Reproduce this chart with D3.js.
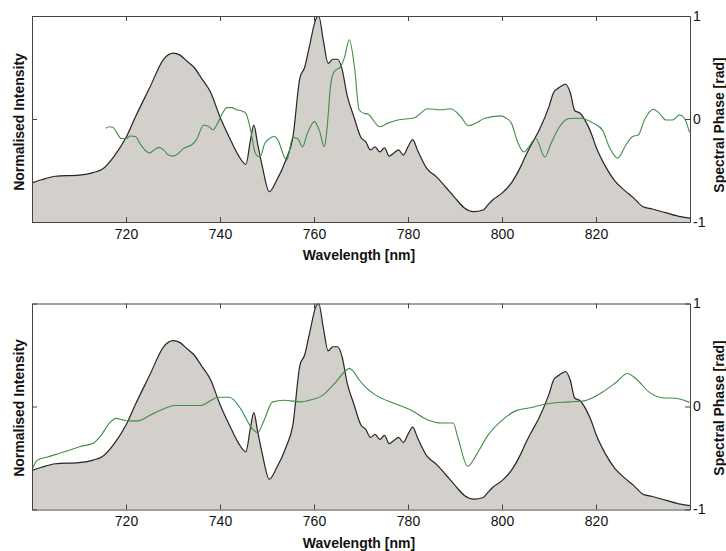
<!DOCTYPE html>
<html>
<head>
<meta charset="utf-8">
<script src="https://cdn.jsdelivr.net/npm/d3@7/dist/d3.min.js"></script>
<style>
  html, body { margin: 0; padding: 0; background: #fff; }
  svg { display: block; }
  text { font-family: "Liberation Sans", Arial, Helvetica, sans-serif; fill: #111; }
</style>
</head>
<body>
<svg id="chart" width="726" height="551"></svg>
<script>
// ---------------- DATA ----------------
const xTicks = [720, 740, 760, 780, 800, 820];
const phaseTicks = [-1, 0, 1];
const intensityTicks = [0, 0.5, 1];

// Normalised intensity (same measured spectrum in both panels)
const intensityNm = [700, 702, 705, 710, 713, 715, 717.5, 720, 722, 725, 728, 730, 731.5, 733, 734.5, 736, 738, 740, 742, 744, 745.5, 746.5, 747.2, 748, 749, 750.5, 752, 754, 755.5, 757, 758, 759, 760.5, 761, 762, 763, 764, 765, 766, 767, 768.5, 770, 771, 772, 773, 774, 775, 776, 777, 778, 779, 780, 781, 782, 784, 786, 788, 790, 792, 794, 796, 797, 798, 800, 802, 804, 805, 806, 808, 810, 811, 812, 813, 813.5, 814.5, 815.5, 816.5, 818, 819, 820, 822, 824, 826, 828, 830, 832, 835, 838, 840];
const intensity = [0.19, 0.205, 0.222, 0.228, 0.24, 0.257, 0.32, 0.41, 0.51, 0.65, 0.79, 0.82, 0.81, 0.78, 0.75, 0.70, 0.63, 0.51, 0.41, 0.32, 0.28, 0.40, 0.47, 0.38, 0.27, 0.147, 0.20, 0.30, 0.41, 0.70, 0.75, 0.85, 0.99, 1.0, 0.88, 0.77, 0.79, 0.79, 0.74, 0.62, 0.51, 0.41, 0.39, 0.35, 0.365, 0.34, 0.36, 0.32, 0.335, 0.35, 0.325, 0.365, 0.40, 0.35, 0.26, 0.22, 0.17, 0.117, 0.068, 0.05, 0.058, 0.083, 0.107, 0.14, 0.19, 0.27, 0.32, 0.365, 0.45, 0.56, 0.63, 0.65, 0.665, 0.67, 0.63, 0.54, 0.53, 0.48, 0.43, 0.365, 0.27, 0.20, 0.155, 0.117, 0.074, 0.063, 0.044, 0.026, 0.019];

// Spectral phase, top panel
const phaseTopNm = [715.7, 716.5, 717.2, 718, 719, 720, 721, 722, 723, 724, 725, 726, 727, 728, 729, 730, 731, 732, 733, 734, 735, 736.5, 737.5, 738.5, 739.5, 740.5, 741.5, 742.5, 743.5, 744.5, 745.5, 746.5, 747.5, 748.5, 749.5, 750.5, 751.5, 752.5, 753.5, 754.2, 755.5, 756.5, 757.6, 758.5, 760.1, 761.2, 762.2, 762.6, 763.6, 764.3, 765.7, 766.5, 767.5, 768.6, 769.6, 770.6, 771.4, 774, 775.7, 777.8, 781.3, 784.2, 787, 789.1, 791.3, 792.8, 794.5, 796.2, 799.7, 800.8, 802, 803.3, 804.7, 805.4, 807.2, 809.1, 810.4, 812.3, 814.3, 816.6, 819.4, 821.4, 822.8, 824.6, 826.4, 827.8, 829, 830.3, 832.2, 833.5, 834.9, 836.3, 837.8, 838.8, 839.9];
const phaseTop = [-0.09, -0.075, -0.08, -0.13, -0.19, -0.19, -0.165, -0.17, -0.24, -0.30, -0.33, -0.30, -0.275, -0.30, -0.35, -0.36, -0.34, -0.295, -0.27, -0.25, -0.2, -0.06, -0.07, -0.105, -0.04, 0.055, 0.11, 0.11, 0.09, 0.08, 0.055, -0.105, -0.33, -0.37, -0.24, -0.19, -0.17, -0.22, -0.35, -0.40, -0.18, -0.19, -0.27, -0.15, -0.025, -0.12, -0.27, -0.17, 0.35, 0.46, 0.51, 0.60, 0.77, 0.51, 0.09, 0.055, 0.05, -0.075, -0.04, -0.01, 0.01, 0.10, 0.09, 0.10, 0.02, -0.065, -0.04, 0.005, 0.03, 0.01, -0.04, -0.22, -0.32, -0.29, -0.19, -0.37, -0.24, -0.07, 0.005, 0.007, -0.04, -0.11, -0.27, -0.38, -0.25, -0.17, -0.155, -0.01, 0.095, 0.055, -0.01, -0.01, 0.04, 0.007, -0.13];

// Spectral phase, bottom panel
const phaseBottomNm = [700.1, 701.2, 703.3, 706.9, 710.1, 712.9, 714.7, 716.5, 717.9, 719.3, 720.4, 722.5, 725.3, 728.2, 730.3, 736, 737, 739.7, 742, 744.5, 746.6, 748, 749.4, 751.2, 753.7, 757.2, 759, 761.9, 764.5, 766.8, 767.5, 768.2, 769.6, 770.7, 772.8, 777.4, 780.6, 784.2, 787, 789.6, 790.6, 792.7, 794.8, 797, 800.5, 803, 806.2, 809.4, 814.3, 817.5, 821.4, 824.3, 826.7, 828.5, 831.3, 834.2, 837, 839.9];
const phaseBottom = [-0.60, -0.52, -0.49, -0.44, -0.39, -0.36, -0.28, -0.16, -0.115, -0.13, -0.14, -0.14, -0.08, -0.02, 0.01, 0.01, 0.03, 0.09, 0.09, -0.03, -0.2, -0.255, -0.13, 0.045, 0.06, 0.045, 0.06, 0.11, 0.23, 0.35, 0.37, 0.35, 0.26, 0.20, 0.12, 0.025, -0.035, -0.13, -0.16, -0.16, -0.30, -0.58, -0.45, -0.28, -0.115, -0.04, -0.01, 0.025, 0.045, 0.055, 0.14, 0.235, 0.32, 0.27, 0.14, 0.085, 0.08, 0.04];

const xLabel = "Wavelength [nm]";
const leftLabel = "Normalised Intensity";
const rightLabel = "Spectral Phase [rad]";

// ---------------- DRAW ----------------
const svg = d3.select("#chart");
const left = 32, right = 690;
const x = d3.scaleLinear().domain([700, 840]).range([left, right]);

const panels = [
  { top: 16, bottom: 222, phaseNm: phaseTopNm, phase: phaseTop, leftLabelY: 122, rightLabelY: 125 },
  { top: 303.5, bottom: 509.5, phaseNm: phaseBottomNm, phase: phaseBottom, leftLabelY: 408, rightLabelY: 408 }
];

const fillColor = "#d3cfcb";
const lineColor = "#262626";
const greenColor = "#3f8e45";
const axisColor = "#444";
const fontFamily = '"Liberation Sans", Arial, sans-serif';

panels.forEach((p, i) => {
  const yI = d3.scaleLinear().domain([0, 1]).range([p.bottom, p.top]);
  const yP = d3.scaleLinear().domain([-1, 1]).range([p.bottom, p.top]);
  const g = svg.append("g");

  const clipId = "clip" + i;
  svg.append("clipPath").attr("id", clipId).append("rect")
    .attr("x", left).attr("y", p.top).attr("width", right - left).attr("height", p.bottom - p.top);

  const iData = intensityNm.map((w, k) => [w, intensity[k]]);
  const pData = p.phaseNm.map((w, k) => [w, p.phase[k]]);

  const plot = g.append("g").attr("clip-path", `url(#${clipId})`);

  plot.append("path").datum(iData)
    .attr("fill", fillColor)
    .attr("d", d3.area().curve(d3.curveMonotoneX)
      .x(d => x(d[0])).y0(p.bottom).y1(d => yI(d[1])));

  plot.append("path").datum(iData)
    .attr("fill", "none").attr("stroke", lineColor).attr("stroke-width", 1.2)
    .attr("d", d3.line().curve(d3.curveMonotoneX).x(d => x(d[0])).y(d => yI(d[1])));

  plot.append("path").datum(pData)
    .attr("fill", "none").attr("stroke", greenColor).attr("stroke-width", 1.1)
    .attr("d", d3.line().curve(d3.curveMonotoneX).x(d => x(d[0])).y(d => yP(d[1])));

  // Axes
  const axB = g.append("g").attr("transform", `translate(0,${p.bottom})`)
    .call(d3.axisBottom(x).tickValues(xTicks).tickSizeInner(-5).tickSizeOuter(0).tickPadding(7));
  const axT = g.append("g").attr("transform", `translate(0,${p.top})`)
    .call(d3.axisTop(x).tickValues(xTicks).tickSizeInner(-5).tickSizeOuter(0).tickFormat(""));
  const axL = g.append("g").attr("transform", `translate(${left},0)`)
    .call(d3.axisLeft(yI).tickValues(intensityTicks).tickSizeInner(-5).tickSizeOuter(0).tickFormat(""));
  const axR = g.append("g").attr("transform", `translate(${right},0)`)
    .call(d3.axisRight(yP).tickValues(phaseTicks).tickSizeInner(-5).tickSizeOuter(0).tickPadding(3)
      .tickFormat(d => String(d)));

  [axB, axT, axL, axR].forEach(a => {
    a.selectAll("path").attr("stroke", axisColor).attr("stroke-width", 1);
    a.selectAll("line").attr("stroke", axisColor);
    a.selectAll("text").attr("font-size", 14).attr("fill", "#111")
      .attr("font-family", fontFamily);
  });

  // Labels
  g.append("text").attr("x", (left + right) / 2 - 2).attr("y", p.bottom + 38)
    .attr("text-anchor", "middle").attr("font-size", 14).attr("font-weight", "bold").text(xLabel);
  g.append("text").attr("transform", `translate(24,${p.leftLabelY}) rotate(-90)`)
    .attr("text-anchor", "middle").attr("font-size", 14).attr("font-weight", "bold").text(leftLabel);
  g.append("text").attr("transform", `translate(724,${p.rightLabelY}) rotate(-90)`)
    .attr("text-anchor", "middle").attr("font-size", 14).attr("font-weight", "bold").text(rightLabel);
});
</script>
</body>
</html>
